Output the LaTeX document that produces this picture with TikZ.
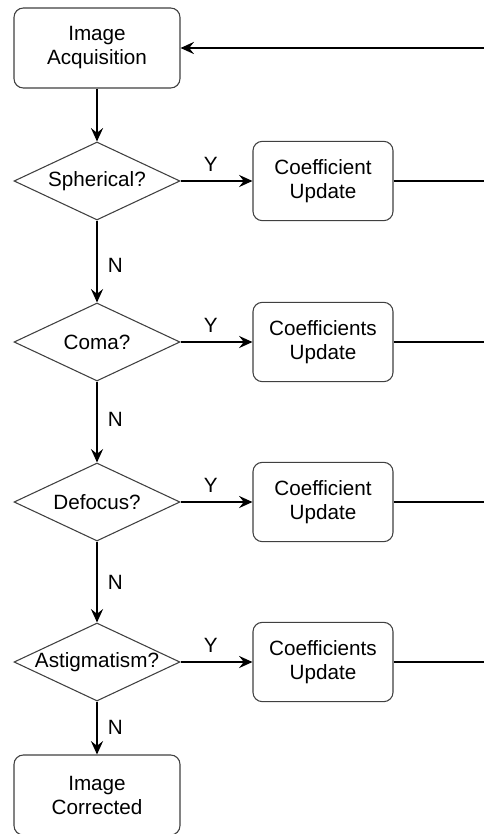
\documentclass[tikz,border=0pt]{standalone}
\usepackage{fontspec}
\setmainfont{Liberation Sans}
\usetikzlibrary{shapes.geometric,arrows.meta}
\begin{document}
\begin{tikzpicture}[x=0.75pt,y=-0.75pt,
  every node/.style={font=\fontsize{15.5pt}{18pt}\selectfont, text=black},
  procbox/.style={draw=black!75, line width=0.8pt, rounded corners=7pt, fill=white,
    minimum width=124.5pt, minimum height=60pt, align=center, inner sep=0pt},
  updbox/.style={draw=black!75, line width=0.8pt, rounded corners=7pt, fill=white,
    minimum width=105pt, minimum height=59.5pt, align=center, inner sep=0pt},
  decision/.style={draw=black!75, line width=0.8pt, diamond, aspect=2.13, fill=white,
    minimum width=124.5pt, minimum height=58.5pt, inner sep=0pt},
  flow/.style={line width=2.2pt, -{Stealth[length=10pt,width=9pt,inset=3.5pt]}},
  plain/.style={line width=2.2pt},
  lbl/.style={font=\fontsize{15.5pt}{18pt}\selectfont, inner sep=1pt}
]
\useasboundingbox (0,0) rectangle (484,834);

\node[procbox] (acq) at (97,48) {Image\\Acquisition};
\node[decision] (sph) at (97,181) {Spherical?};
\node[decision] (coma) at (97,342) {Coma?};
\node[decision] (defo) at (97,502) {Defocus?};
\node[decision] (astig) at (97,662) {Astigmatism?};
\node[procbox] (corr) at (97,795) {Image\\Corrected};

\node[updbox] (u1) at (323,181) {Coefficient\\Update};
\node[updbox] (u2) at (323,342) {Coefficients\\Update};
\node[updbox] (u3) at (323,502) {Coefficient\\Update};
\node[updbox] (u4) at (323,662) {Coefficients\\Update};

\coordinate (r0) at (486,48);
\coordinate (r1) at (486,181);
\coordinate (r2) at (486,342);
\coordinate (r3) at (486,502);
\coordinate (r4) at (486,662);

\draw[flow] (r0) -- (acq.east);
\draw[flow] (acq.south) -- (sph.north);
\draw[flow] (sph.south) -- node[lbl, right=6pt, pos=0.55] {N} (coma.north);
\draw[flow] (coma.south) -- node[lbl, right=6pt, pos=0.47] {N} (defo.north);
\draw[flow] (defo.south) -- node[lbl, right=6pt, pos=0.5] {N} (astig.north);
\draw[flow] (astig.south) -- node[lbl, right=6pt, pos=0.48] {N} (corr.north);

\draw[flow] (sph.east) -- node[lbl, above=5pt, pos=0.42] {Y} (u1.west);
\draw[flow] (coma.east) -- node[lbl, above=5pt, pos=0.42] {Y} (u2.west);
\draw[flow] (defo.east) -- node[lbl, above=5pt, pos=0.42] {Y} (u3.west);
\draw[flow] (astig.east) -- node[lbl, above=5pt, pos=0.42] {Y} (u4.west);

\draw[plain] (u1.east) -- (r1);
\draw[plain] (u2.east) -- (r2);
\draw[plain] (u3.east) -- (r3);
\draw[plain] (u4.east) -- (r4);
\end{tikzpicture}
\end{document}
